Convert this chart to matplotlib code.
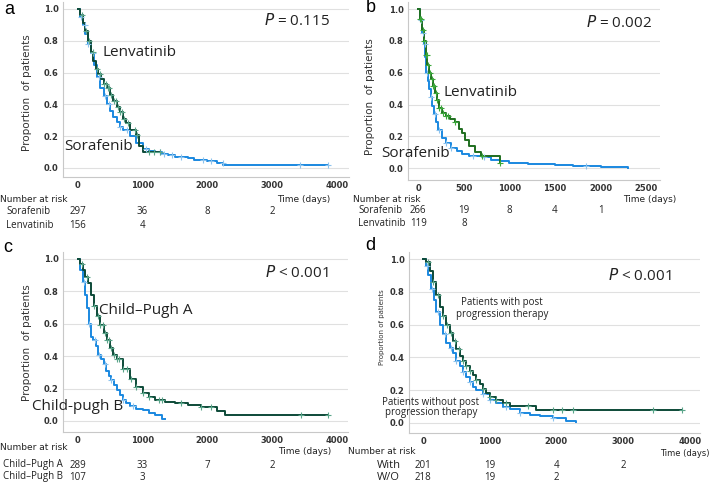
import numpy as np
import matplotlib
matplotlib.use("Agg")
import matplotlib.pyplot as plt
from matplotlib.transforms import blended_transform_factory
from matplotlib.ticker import FormatStrFormatter

# ---- data ----
# panel a: overall, sorafenib vs lenvatinib
len_a_t = [0, 40, 80, 120, 160, 200, 240, 280, 320, 360, 400, 450, 500, 550, 600, 650, 700, 750, 800, 850, 900, 950, 1000, 1270]
len_a_s = [1.0, 0.96, 0.91, 0.86, 0.80, 0.73, 0.67, 0.62, 0.59, 0.56, 0.53, 0.50, 0.46, 0.42, 0.385, 0.35, 0.31, 0.28, 0.24, 0.24, 0.21, 0.14, 0.10, 0.10]
len_a_cens = [60, 130, 180, 230, 300, 350, 400, 430, 460, 490, 520, 560, 590, 620, 650, 680, 720, 780, 880, 920, 1100, 1180, 1270]
sor_a_t = [0, 40, 80, 120, 160, 200, 250, 300, 350, 400, 450, 500, 550, 600, 650, 700, 800, 900, 1000, 1100, 1200, 1300, 1400, 1500, 1700, 1800, 2000, 2150, 2250, 3870]
sor_a_s = [1.0, 0.95, 0.90, 0.84, 0.78, 0.72, 0.65, 0.57, 0.50, 0.45, 0.40, 0.36, 0.32, 0.29, 0.26, 0.24, 0.20, 0.16, 0.12, 0.105, 0.10, 0.085, 0.08, 0.07, 0.06, 0.05, 0.046, 0.03, 0.02, 0.02]
sor_a_cens = [50, 110, 160, 240, 330, 420, 480, 650, 760, 1050, 1270, 1330, 1450, 1600, 1930, 2050, 2245, 3430, 3860]

# panel b
len_b_t = [0, 20, 40, 60, 80, 100, 120, 140, 160, 180, 200, 230, 260, 300, 350, 400, 450, 480, 510, 560, 620, 690, 900]
len_b_s = [1.0, 0.94, 0.87, 0.80, 0.71, 0.65, 0.60, 0.56, 0.52, 0.47, 0.43, 0.38, 0.35, 0.33, 0.31, 0.29, 0.25, 0.22, 0.18, 0.14, 0.10, 0.075, 0.035]
len_b_cens = [20, 35, 50, 60, 80, 95, 110, 130, 150, 160, 170, 190, 210, 230, 250, 270, 300, 330, 400, 700, 900]
sor_b_t = [0, 20, 40, 60, 75, 90, 105, 120, 135, 150, 170, 190, 220, 260, 300, 360, 420, 480, 560, 700, 800, 900, 1000, 1200, 1500, 1700, 2000, 2300]
sor_b_s = [1.0, 0.93, 0.85, 0.78, 0.70, 0.60, 0.55, 0.50, 0.45, 0.39, 0.34, 0.29, 0.24, 0.19, 0.16, 0.13, 0.11, 0.09, 0.08, 0.07, 0.055, 0.045, 0.035, 0.03, 0.02, 0.015, 0.01, 0.005]
sor_b_cens = [30, 50, 70, 100, 140, 180, 230, 300, 360, 600, 720, 1840]

# panel c: Child-Pugh A vs B
cpa_t = [0, 40, 80, 120, 160, 200, 250, 300, 350, 400, 450, 500, 550, 600, 700, 800, 900, 1000, 1100, 1200, 1350, 1500, 1700, 1900, 2150, 2270, 3870]
cpa_s = [1.0, 0.97, 0.93, 0.89, 0.85, 0.78, 0.71, 0.65, 0.59, 0.54, 0.50, 0.45, 0.41, 0.38, 0.32, 0.26, 0.21, 0.17, 0.15, 0.13, 0.12, 0.11, 0.10, 0.088, 0.064, 0.037, 0.037]
cpa_cens = [60, 150, 250, 310, 350, 390, 420, 450, 480, 520, 560, 600, 640, 700, 760, 830, 900, 1000, 1100, 1250, 1300, 1600, 1900, 2050, 3440, 3870]
cpb_t = [0, 40, 80, 110, 140, 170, 200, 240, 280, 320, 360, 400, 440, 480, 520, 560, 600, 650, 700, 750, 800, 900, 1000, 1100, 1200, 1300, 1340]
cpb_s = [1.0, 0.93, 0.86, 0.78, 0.70, 0.60, 0.52, 0.50, 0.46, 0.41, 0.38, 0.35, 0.31, 0.28, 0.25, 0.22, 0.19, 0.16, 0.13, 0.11, 0.09, 0.075, 0.068, 0.05, 0.04, 0.012, 0.012]
cpb_cens = [90, 170, 260, 330, 420, 520, 700, 850]

# panel d: with / without post progression therapy
with_t = [0, 50, 100, 150, 200, 250, 300, 350, 400, 450, 500, 550, 600, 650, 700, 750, 800, 850, 900, 950, 1000, 1100, 1200, 1300, 1700, 3880]
with_s = [1.0, 0.98, 0.93, 0.86, 0.78, 0.71, 0.65, 0.60, 0.55, 0.50, 0.45, 0.41, 0.38, 0.35, 0.32, 0.29, 0.26, 0.235, 0.21, 0.185, 0.16, 0.14, 0.12, 0.105, 0.08, 0.08]
with_cens = [80, 150, 230, 300, 360, 420, 480, 540, 600, 650, 700, 800, 900, 1000, 1100, 1250, 1580, 1945, 2080, 2255, 3450, 3880]
wo_t = [0, 40, 80, 120, 160, 200, 250, 300, 350, 400, 450, 500, 550, 600, 650, 700, 750, 800, 900, 1000, 1100, 1200, 1300, 1450, 1600, 1750, 1950, 2150, 2290]
wo_s = [1.0, 0.96, 0.90, 0.82, 0.75, 0.68, 0.60, 0.54, 0.49, 0.46, 0.43, 0.38, 0.35, 0.31, 0.28, 0.25, 0.22, 0.20, 0.175, 0.14, 0.12, 0.10, 0.085, 0.06, 0.05, 0.04, 0.028, 0.012, 0.005]
wo_cens = [60, 140, 230, 330, 420, 500, 600, 700, 900, 1000, 1250, 1450, 1950]

# numbers at risk
risk_a_times = [0, 1000, 2000, 3000]
risk_a = {"Sorafenib": [297, 36, 8, 2], "Lenvatinib": [156, 4]}
risk_b_times = [0, 500, 1000, 1500, 2000]
risk_b = {"Sorafenib": [266, 19, 8, 4, 1], "Lenvatinib": [119, 8]}
risk_c_times = [0, 1000, 2000, 3000]
risk_c = {"Child\u2013Pugh A": [289, 33, 7, 2], "Child\u2013Pugh B": [107, 3]}
risk_d_times = [0, 1000, 2000, 3000]
risk_d = {"With": [201, 19, 4, 2], "W/O": [218, 19, 2]}

# ---- style ----
W, H = 709, 484
DARK = "#0d4a38"
DARK_M = "#5aa58a"
BLUE = "#1a88e0"
BLUE_M = "#8cc3ee"
GREEN_B = "#1f6e1f"
GREEN_BM = "#3aa83a"
LABEL_FONT = "Open Sans"

fig = plt.figure(figsize=(W / 100, H / 100), dpi=100)


def fx(x):
    return x / W


def fy(y):
    return 1 - y / H


def make_ax(left, top, right, bottom, xlim, ylim, xticks):
    ax = fig.add_axes([fx(left), fy(bottom), (right - left) / W, (bottom - top) / H])
    ax.set_xlim(*xlim)
    ax.set_ylim(*ylim)
    ax.set_xticks(xticks)
    ax.set_yticks([0, 0.2, 0.4, 0.6, 0.8, 1.0])
    ax.yaxis.set_major_formatter(FormatStrFormatter("%.1f"))
    for s in ["top", "right"]:
        ax.spines[s].set_visible(False)
    for s in ["left", "bottom"]:
        ax.spines[s].set_color("#c8c8c8")
        ax.spines[s].set_linewidth(0.8)
    ax.grid(axis="y", color="#e0e0e0", lw=0.8)
    ax.set_axisbelow(True)
    ax.tick_params(length=0, labelsize=6, labelcolor="#333333", pad=3)
    for lab in ax.get_xticklabels() + ax.get_yticklabels():
        lab.set_fontweight("bold")
    return ax


def km(ax, t, s, cens, color, mcolor):
    t = np.asarray(t, float)
    s = np.asarray(s, float)
    ax.step(t, s, where="post", color=color, lw=1.4, zorder=3)
    c = np.asarray(cens, float)
    idx = np.searchsorted(t, c, side="right") - 1
    ax.plot(c, s[idx], "+", color=mcolor, ms=4.5, mew=0.8, zorder=4)


def risk_table(ax, times, rows, name_x, row_ys, fs=7, name_fs=7):
    tr = blended_transform_factory(ax.transData, fig.transFigure)
    for (name, vals), y in zip(rows.items(), row_ys):
        fig.text(fx(name_x), fy(y), name, fontsize=name_fs, va="center", ha="left",
                 family=LABEL_FONT, color="#222222")
        for t, v in zip(times, vals):
            ax.text(t, fy(y), str(v), transform=tr, fontsize=fs, ha="center", va="center",
                    family=LABEL_FONT, color="#222222")


def ftext(x, y, s, size, **kw):
    kw.setdefault("family", LABEL_FONT)
    kw.setdefault("color", "#222222")
    fig.text(fx(x), fy(y), s, fontsize=size, ha=kw.pop("ha", "center"), va="center", **kw)


# ---- panel a ----
ax_a = make_ax(63, 2, 349, 177, (-227, 4187), (-0.057, 1.044), [0, 1000, 2000, 3000, 4000])
km(ax_a, sor_a_t, sor_a_s, sor_a_cens, BLUE, BLUE_M)
km(ax_a, len_a_t, len_a_s, len_a_cens, DARK, DARK_M)
ftext(297, 21, "$P$ = 0.115", 11)
ftext(140, 52, "Lenvatinib", 11)
ftext(99, 147, "Sorafenib", 11)
ftext(27, 93, "Proportion  of patients", 7.5, rotation=90, family="DejaVu Sans", color="#333333")
ftext(9, 9, "a", 13, family="Liberation Sans", color="black")
ftext(0, 199, "Number at risk", 6.5, ha="left", family="DejaVu Sans")
ftext(304, 200, "Time (days)", 6.5, family="DejaVu Sans")
risk_table(ax_a, risk_a_times, risk_a, 6, [212, 225])

# ---- panel b ----
ax_b = make_ax(408, 2, 660, 180, (-113, 2653), (-0.073, 1.044), [0, 500, 1000, 1500, 2000, 2500])
km(ax_b, sor_b_t, sor_b_s, sor_b_cens, BLUE, BLUE_M)
km(ax_b, len_b_t, len_b_s, len_b_cens, GREEN_B, GREEN_BM)
ftext(619, 23, "$P$ = 0.002", 11)
ftext(481, 92, "Lenvatinib", 11)
ftext(416, 154, "Sorafenib", 11)
ftext(370, 97, "Proportion  of patients", 7.5, rotation=90, family="DejaVu Sans", color="#333333")
ftext(371, 8, "b", 13, family="Liberation Sans", color="black")
ftext(353, 200, "Number at risk", 6.5, ha="left", family="DejaVu Sans")
ftext(650, 200, "Time (days)", 6.5, family="DejaVu Sans")
risk_table(ax_b, risk_b_times, risk_b, 358, [211, 224])

# ---- panel c ----
ax_c = make_ax(63, 252, 348, 432, (-227, 4171), (-0.068, 1.043), [0, 1000, 2000, 3000, 4000])
km(ax_c, cpb_t, cpb_s, cpb_cens, BLUE, BLUE_M)
km(ax_c, cpa_t, cpa_s, cpa_cens, DARK, DARK_M)
ftext(297, 273, "$P$ < 0.001", 11)
ftext(146, 311, "Child\u2013Pugh A", 11)
ftext(78, 406, "Child-pugh B", 11)
ftext(27, 343, "Proportion  of patients", 7.5, rotation=90, family="DejaVu Sans", color="#333333")
ftext(8, 247, "c", 13, family="Liberation Sans", color="black")
ftext(0, 447, "Number at risk", 6.5, ha="left", family="DejaVu Sans")
ftext(305, 452, "Time (days)", 6.5, family="DejaVu Sans")
risk_table(ax_c, risk_c_times, risk_c, 3, [465, 477])

# ---- panel d ----
ax_d = make_ax(409, 252, 700, 433, (-210, 4153), (-0.061, 1.043), [0, 1000, 2000, 3000, 4000])
km(ax_d, wo_t, wo_s, wo_cens, BLUE, BLUE_M)
km(ax_d, with_t, with_s, with_cens, DARK, DARK_M)
ftext(640, 276, "$P$ < 0.001", 11)
ftext(502, 303, "Patients with post", 7)
ftext(502, 315, "progression therapy", 7)
ftext(431, 402, "Patients without post", 7)
ftext(431, 413, "progression therapy", 7)
ftext(382, 327, "Proportion of patients", 5, rotation=90, family="DejaVu Sans", color="#333333")
ftext(370, 245, "d", 13, family="Liberation Sans", color="black")
ftext(348, 452, "Number at risk", 6.5, ha="left", family="DejaVu Sans")
ftext(685, 453, "Time (days)", 6, family="DejaVu Sans")
risk_table(ax_d, risk_d_times, risk_d, 377, [465, 478], fs=7, name_fs=8)

fig.savefig("out.png", dpi=100)
